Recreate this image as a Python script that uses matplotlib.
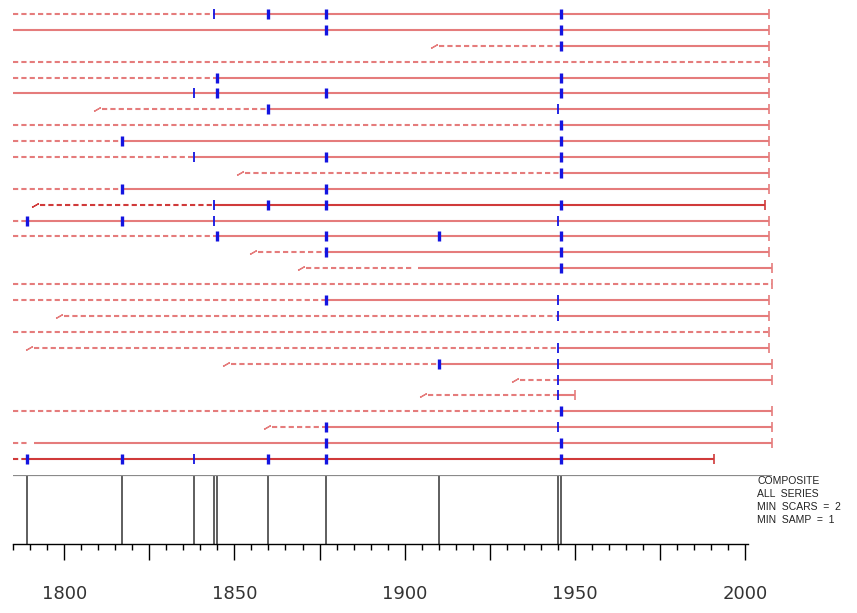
import matplotlib.pyplot as plt
from matplotlib.ticker import FuncFormatter, FixedLocator

# one entry per tree, top to bottom
START = [1785, 1785, 1909, 1785, 1785, 1785, 1810, 1785, 1785, 1785,
         1852, 1785, 1792, 1785, 1785, 1856, 1870, 1785, 1785, 1799,
         1785, 1790, 1848, 1933, 1906, 1785, 1860, 1785, 1785]
INNER = [False, False, True, False, False, False, True, False, False, False,
         True, False, True, False, False, True, True, False, False, True,
         False, True, True, True, True, False, True, False, False]
END = [2007, 2007, 2007, 2007, 2007, 2007, 2007, 2007, 2007, 2007,
       2007, 2007, 2006, 2007, 2007, 2007, 2008, 2008, 2007, 2007,
       2007, 2007, 2008, 2008, 1950, 2008, 2008, 2008, 1991]
# year the series becomes a recorder (None = never recording)
RECORDING = [1844, 1785, 1946, None, 1845, 1785, 1860, 1946, 1817, 1838,
             1946, 1817, 1844, 1789, 1845, 1877, 1904, None, 1877, 1945,
             None, 1945, 1910, 1945, 1945, 1946, 1877, 1791, 1789]
# end of the non-recording part where it stops short of RECORDING
DASH_END = {16: 1902.5, 27: 1789.5}
SCARS = [
    [1844, 1860, 1877, 1946],
    [1877, 1946],
    [1946],
    [],
    [1845, 1946],
    [1838, 1845, 1877, 1946],
    [1860, 1945],
    [1946],
    [1817, 1946],
    [1838, 1877, 1946],
    [1946],
    [1817, 1877],
    [1844, 1860, 1877, 1946],
    [1789, 1817, 1844, 1945],
    [1845, 1877, 1910, 1946],
    [1877, 1946],
    [1946],
    [],
    [1877, 1945],
    [1945],
    [],
    [1945],
    [1910, 1945],
    [1945],
    [1945],
    [1946],
    [1877, 1945],
    [1877, 1946],
    [1789, 1817, 1838, 1860, 1877, 1946],
]
COMPOSITE_TEXT = ["COMPOSITE", "ALL  SERIES", "MIN  SCARS  =  2", "MIN  SAMP  =  1"]
MIN_SCARS = 2
AXIS_FIRST, AXIS_LAST = 1785, 2000

LINE = "#e57c7c"
DARK = "#d03a3a"
DARK_ROWS = {12, 28}
THIN_SCARS = {1838, 1844, 1945}
DASH = (0, (2.5, 1.5))

# axes span the full width: 1785 at x=13px, 2008 at x=772px
px_per_year = 3.4035
x0 = 1785 - 13.2 / px_per_year
x1 = 2008 + (857 - 772.2) / px_per_year

fig = plt.figure(figsize=(8.57, 6.13), dpi=100)
ax = fig.add_axes([0, 1 - 466.95 / 613, 1, 460.9 / 613])
ax.set_xlim(x0, x1)
ax.set_ylim(len(START) - 0.5, -0.5)
ax.axis("off")

for i in range(len(START)):
    col = DARK if i in DARK_ROWS else LINE
    s = START[i] + (1 if INNER[i] else 0)
    rec = RECORDING[i]
    dash_end = END[i] if rec is None else DASH_END.get(i, rec)
    if rec is None or rec > s:
        ax.plot([s, dash_end], [i, i], color=col, lw=1.5, ls=DASH, solid_capstyle="butt")
    if rec is not None:
        ax.plot([max(rec, s), END[i]], [i, i], color=col, lw=1.5, solid_capstyle="butt")
    if INNER[i]:
        ax.plot([START[i] - 0.5], [i], marker=(2, 2, -60), ms=5.5, mew=0.9, color=col, ls="none")
    ax.plot([END[i]], [i], marker="|", ms=7.5, mew=1.2, color=col, ls="none", clip_on=False)
    for yr in SCARS[i]:
        thin = yr in THIN_SCARS
        ax.plot([yr], [i], marker="|", ms=6.5, mew=1.3 if thin else 2.4,
                color="#1414e0", ls="none", zorder=5)

# composite: years scarred on at least MIN_SCARS trees
counts = {}
for row in SCARS:
    for yr in row:
        counts[yr] = counts.get(yr, 0) + 1
comp_years = sorted(y for y, n in counts.items() if n >= MIN_SCARS)

cx = fig.add_axes([0, 1 - 544 / 613, 1, 69 / 613])
cx.set_xlim(x0, x1)
cx.set_ylim(0, 1)
cx.vlines(comp_years, 0, 1, color="#333333", lw=1.1)
cx.hlines(1, 1785, 2008, color="#8a8a8a", lw=1.6)
for s in ["top", "left", "right"]:
    cx.spines[s].set_visible(False)
cx.spines["bottom"].set_bounds(AXIS_FIRST, AXIS_LAST + 1)
cx.spines["bottom"].set_linewidth(1.0)
cx.set_yticks([])

major = list(range(1800, AXIS_LAST + 1, 25))
minor = [y for y in range(AXIS_FIRST, AXIS_LAST + 1, 5) if y not in major]
cx.xaxis.set_major_locator(FixedLocator(major))
cx.xaxis.set_minor_locator(FixedLocator(minor))
cx.xaxis.set_major_formatter(FuncFormatter(lambda v, p: f"{int(v)}" if v % 50 == 0 else ""))
cx.tick_params(axis="x", which="major", length=11.5, width=1.0, pad=18,
               labelsize=13, labelcolor="#333333")
cx.tick_params(axis="x", which="minor", length=4.3, width=1.0)
cx.set_xlim(x0, x1)

for k, line in enumerate(COMPOSITE_TEXT):
    fig.text(757 / 857, 1 - (481 + 13 * k) / 613, line, fontsize=7.5,
             family="Liberation Sans", va="center", ha="left", color="#222222")

fig.savefig("out.png", dpi=100)
